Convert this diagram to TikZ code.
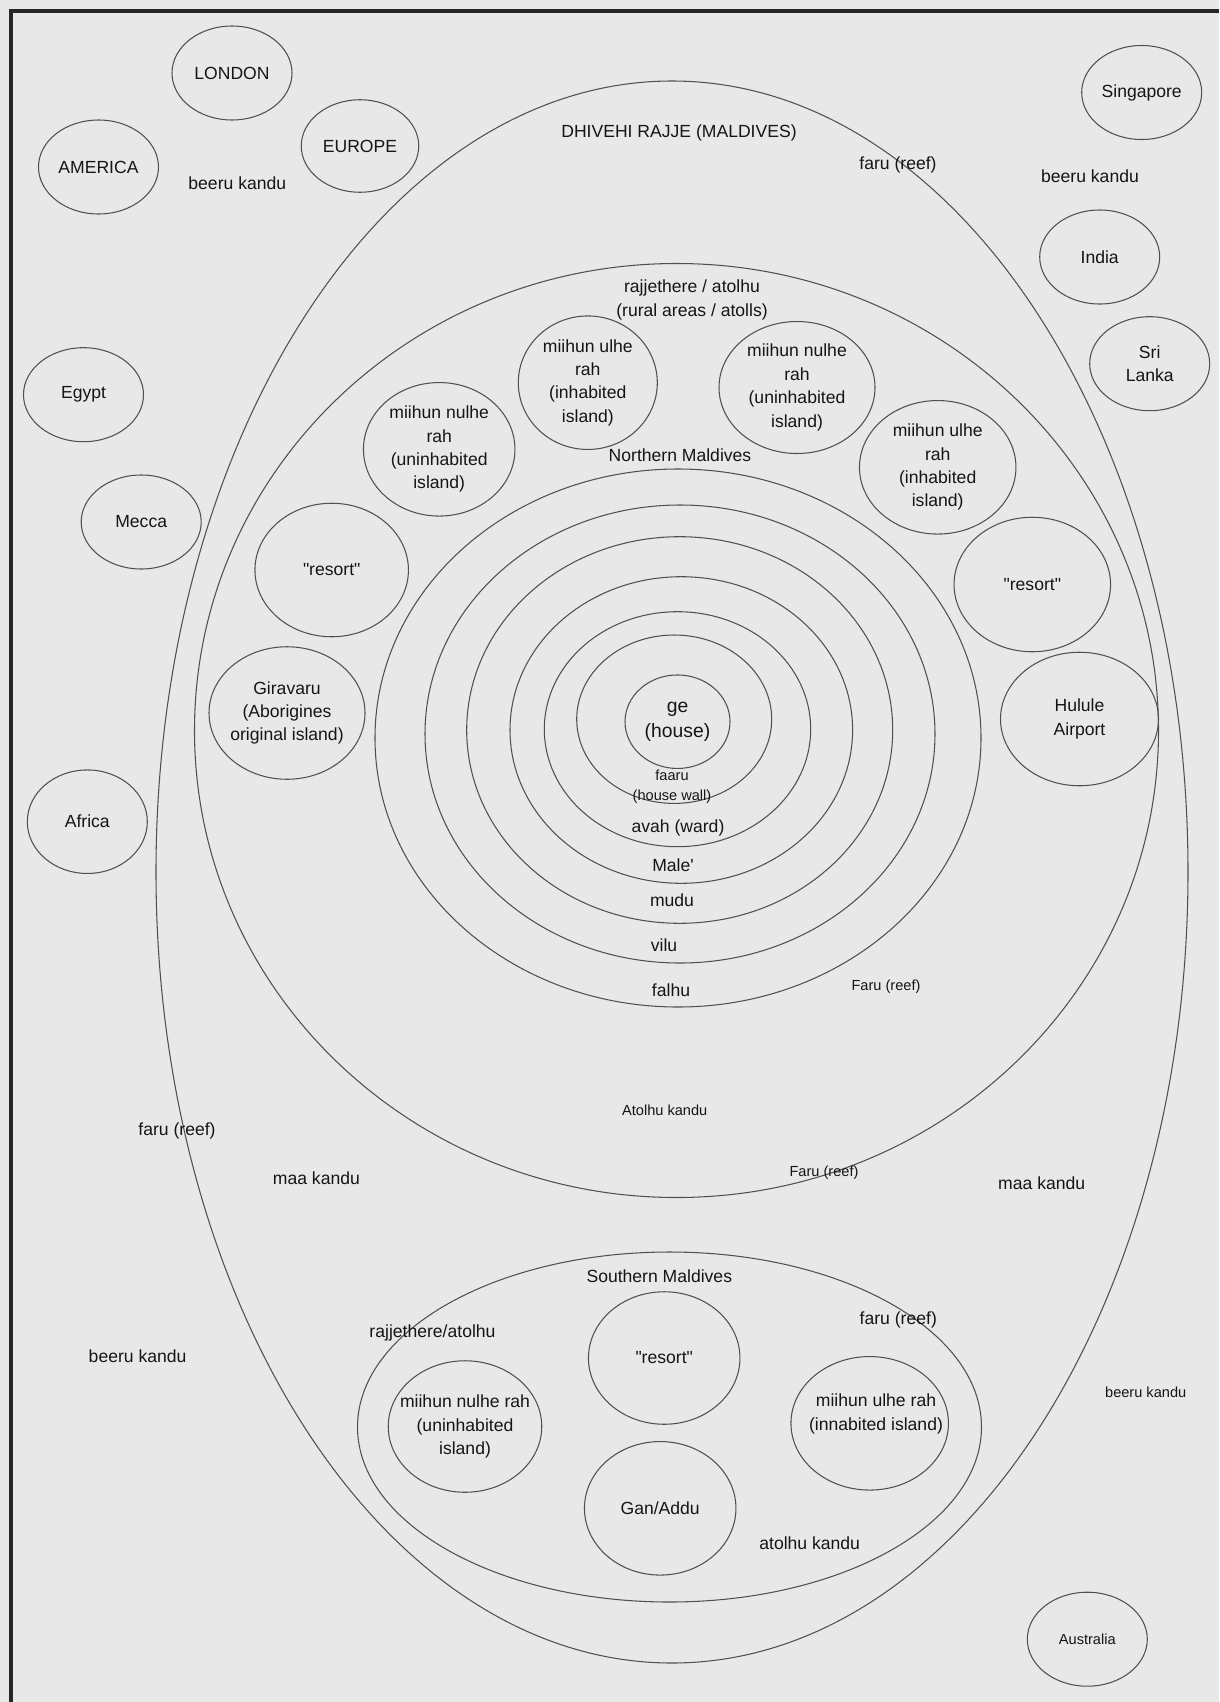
\documentclass[tikz,border=0pt]{standalone}
\usepackage{fontspec}
\setmainfont{Liberation Sans}[Ligatures=TeXOff]
\usetikzlibrary{shapes.geometric}
\definecolor{paper}{HTML}{E8E8E8}
\definecolor{ink}{HTML}{505050}
\definecolor{txt}{HTML}{151515}
\tikzstyle{land}=[ellipse,draw=ink,line width=0.6pt,inner sep=0pt,minimum width=2.4cm,minimum height=1.88cm,text=txt,align=center,font=\fontsize{10}{13.3}\selectfont]
\tikzstyle{isle}=[ellipse,draw=ink,line width=0.6pt,inner sep=0pt,text=txt,align=center,font=\fontsize{10}{13.3}\selectfont]
\tikzstyle{lbl}=[inner sep=0pt,text=txt,align=center,font=\fontsize{10}{13.3}\selectfont]
\tikzstyle{smalltxt}=[inner sep=0pt,text=txt,align=center,font=\fontsize{8.3}{11.4}\selectfont]
\tikzstyle{ring}=[draw=ink,line width=0.6pt]
\tikzstyle{edgeline}=[draw=black!85,line width=2.2pt]
\newcommand{\wide}[1]{\makebox[0pt]{#1}}

\begin{document}
\begin{tikzpicture}[x=0.2mm,y=-0.2mm]
		\fill[paper] (0,0) rectangle (1219,1702);
		\useasboundingbox (0,0) rectangle (1219,1702);
		\draw[edgeline] (11,1702) -- (11,11) -- (1219,11);

		% the world outside
		\node (london) at (232,73) [land] {LONDON};
		\node (america) at (98.5,167) [land] {AMERICA};
		\node (europe) at (360,146) [land,minimum width=2.35cm,minimum height=1.85cm] {EUROPE};
		\node (singapore) at (1141.7,92.5) [land] {Singapore};
		\node (india) at (1099.7,257) [land] {India};
		\node (srilanka) at (1149.7,363.7) [land] {Sri\\Lanka};
		\node (egypt) at (83.5,394.7) [land] {Egypt};
		\node (mecca) at (141.2,522) [land] {Mecca};
		\node (africa) at (87.3,821.7) [land,minimum height=2.07cm] {Africa};
		\node (australia) at (1087.3,1639.2) [land,font=\fontsize{8.3}{11.4}\selectfont] {Australia};

		% the three big rings
		\draw[ring] (672,872) ellipse [x radius=516,y radius=791];
		\draw[ring] (676.5,730.5) ellipse [x radius=482,y radius=467];
		\draw[ring] (669.5,1427) ellipse [x radius=312,y radius=175];

		% house to falhu
		\foreach \cx/\cy/\rx/\ry in {674.2/719.2/97.5/84.2,677.5/729.2/133.2/117.5,681.3/730/171.3/153.3,679.7/730/213/193.3,680/734/255/229,678/738/303/269}
			\draw[ring] (\cx,\cy) ellipse [x radius=\rx,y radius=\ry];
		\node (ge) at (677.5,721.7) [isle,minimum width=2.1cm,minimum height=1.87cm,font=\fontsize{11}{14.6}\selectfont] {ge\\(house)};

		% northern islands
		\node (nulheW) at (439.2,449.3) [isle,minimum width=3.03cm,minimum height=2.67cm] {miihun nulhe\\rah\\(uninhabited\\island)};
		\node (ulheN) at (587.8,382.7) [isle,minimum width=2.78cm,minimum height=2.67cm] {miihun ulhe\\rah\\(inhabited\\island)};
		\node (nulheN) at (797,387.5) [isle,minimum width=3.12cm,minimum height=2.64cm] {miihun nulhe\\rah\\(uninhabited\\island)};
		\node (ulheE) at (937.7,467.3) [isle,minimum width=3.13cm,minimum height=2.67cm] {miihun ulhe\\rah\\(inhabited\\island)};
		\node (resortW) at (331.7,570) [isle,minimum width=3.07cm,minimum height=2.67cm] {"resort"};
		\node (resortE) at (1032.3,584.5) [isle,minimum width=3.13cm,minimum height=2.69cm] {"resort"};
		\node (giravaru) at (287,713) [isle,minimum width=3.12cm,minimum height=2.65cm] {Giravaru\\(Aborigines\\\wide{original island)}};
		\node (hulule) at (1079.5,719) [isle,minimum width=3.16cm,minimum height=2.67cm] {Hulule\\Airport};

		% southern islands
		\node (resortS) at (664.2,1358) [isle,minimum width=3.03cm,minimum height=2.65cm] {"resort"};
		\node (nulheS) at (465,1426.5) [isle,minimum width=3.07cm,minimum height=2.63cm] {\wide{miihun nulhe rah}\\(uninhabited\\island)};
		\node (ulheS) at (869.7,1423.3) [isle,minimum width=3.15cm,minimum height=2.67cm] {};
		\node (ulheStxt) at (876,1414) [lbl] {\wide{miihun ulhe rah}\\\wide{(innabited island)}};
		\node (ganaddu) at (660.2,1508.3) [isle,minimum width=3.03cm,minimum height=2.67cm] {Gan/Addu};

		% labels
		\node (rajje) at (679,132.5) [lbl] {DHIVEHI RAJJE (MALDIVES)};
		\node (faruT) at (898,165) [lbl] {faru (reef)};
		\node (beeruTL) at (237.3,183.3) [lbl] {beeru kandu};
		\node (beeruTR) at (1090,176) [lbl] {beeru kandu};
		\node (rajjethere) at (692,300) [lbl] {rajjethere / atolhu\\(rural areas / atolls)};
		\node (north) at (680,455) [lbl] {Northern Maldives};
		\node (faaru) at (672,786.7) [smalltxt] {faaru\\(house wall)};
		\node (avah) at (678,828.3) [lbl] {avah (ward)};
		\node (male) at (673,865) [lbl] {Male'};
		\node (mudu) at (672,900.7) [lbl] {mudu};
		\node (vilu) at (664,945) [lbl] {vilu};
		\node (falhu) at (671,990) [lbl] {falhu};
		\node (faruR) at (886,986.7) [smalltxt] {Faru (reef)};
		\node (atolhuN) at (664.7,1110.5) [smalltxt] {Atolhu kandu};
		\node (faruL) at (177,1131) [lbl] {faru (reef)};
		\node (maaL) at (316.4,1177.8) [lbl] {maa kandu};
		\node (faruB) at (824,1172.3) [smalltxt] {Faru (reef)};
		\node (maaR) at (1041.7,1183) [lbl] {maa kandu};
		\node (south) at (659.3,1276.7) [lbl] {Southern Maldives};
		\node (rajjethereS) at (432.5,1333.3) [lbl] {rajjethere/atolhu};
		\node (faruS) at (898.3,1320) [lbl] {faru (reef)};
		\node (beeruL) at (137.6,1356) [lbl] {beeru kandu};
		\node (beeruR) at (1145.7,1392.7) [smalltxt] {beeru kandu};
		\node (atolhuS) at (809.7,1543) [lbl] {atolhu kandu};
\end{tikzpicture}
\end{document}
